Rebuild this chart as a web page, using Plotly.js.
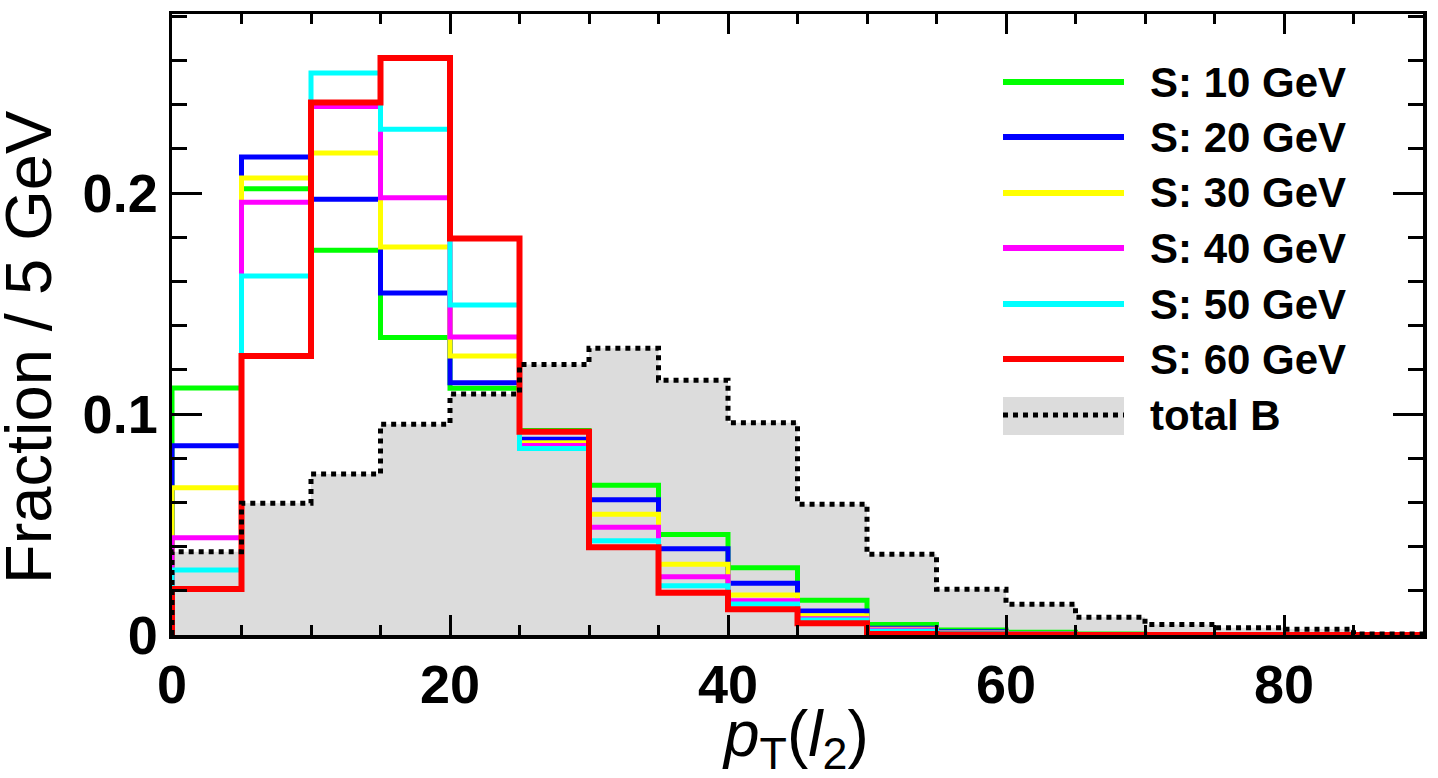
<!DOCTYPE html>
<html>
<head>
<meta charset="utf-8">
<script src="https://cdn.plot.ly/plotly-3.0.1.min.js"></script>
<style>html,body{margin:0;padding:0;background:#fff;}#chart{width:1438px;height:778px;}</style>
</head>
<body>
<div id="chart"></div>
<script>
// Bin edges of pT(l2) in GeV (5 GeV bins)
const binEdges = [0,5,10,15,20,25,30,35,40,45,50,55,60,65,70,75,80,85,90];

// Fractions per 5 GeV bin
const s10 = [0.1118,0.2019,0.1741,0.1346,0.1116,0.0925,0.0678,0.0455,0.0304,0.0157,0.0047,0.0023,0.0012,0.0004,0.0002,0.0001,0,0];
const s20 = [0.0856,0.2163,0.1972,0.1547,0.1141,0.0886,0.0612,0.0390,0.0234,0.0109,0.0030,0.0015,0.0006,0.0002,0.0001,0,0,0];
const s30 = [0.0666,0.2068,0.2181,0.1756,0.1262,0.0870,0.0546,0.0320,0.0181,0.0087,0.0026,0.0010,0.0004,0.0001,0,0,0,0];
const s40 = [0.0440,0.1958,0.2391,0.1978,0.1349,0.0857,0.0487,0.0264,0.0155,0.0074,0.0023,0.0009,0.0003,0.0001,0,0,0,0];
const s50 = [0.0294,0.1624,0.2543,0.2289,0.1493,0.0844,0.0427,0.0223,0.0140,0.0068,0.0017,0.0008,0.0003,0.0001,0,0,0,0];
const s60 = [0.0208,0.1263,0.2409,0.2611,0.1794,0.0920,0.0397,0.0191,0.0116,0.0053,0.0004,0.0002,0.0001,0,0,0,0,0];
const totalB = [0.0377,0.0596,0.0728,0.0954,0.1090,0.1224,0.1297,0.1153,0.0960,0.0592,0.0365,0.0207,0.0139,0.0080,0.0048,0.0033,0.0026,0.0004];

const seriesNames = ["S: 10 GeV","S: 20 GeV","S: 30 GeV","S: 40 GeV","S: 50 GeV","S: 60 GeV","total B"];
const seriesColors = ["#00ff00","#0000ff","#ffff00","#ff00ff","#00ffff","#ff0000","#000000"];
const seriesWidths = [5,5,5,5,5,6,5];
const signalSets = [s10,s20,s30,s40,s50,s60];

const xTickVals = [0,20,40,60,80];
const xTickText = ['0','20','40','60','80'];
const yTickVals = [0,0.1,0.2];
const yTickText = ['0','0.1','0.2'];

const xTitle = "<i>p</i><sub>T</sub>(<i>l</i><sub>2</sub>)";
const yTitle = "Fraction / 5 GeV";

const FONT = "'Liberation Sans', Arial, Helvetica, sans-serif";
const FILLGREY = "#dcdcdc";

function stepXY(vals){
  const x=[binEdges[0]], y=[0];
  for(let i=0;i<vals.length;i++){ x.push(binEdges[i]); y.push(vals[i]); }
  x.push(binEdges[vals.length]); y.push(vals[vals.length-1]);
  x.push(binEdges[vals.length]); y.push(0);
  return {x,y};
}

const traces = [];
const bStep = stepXY(totalB);
traces.push({x:bStep.x, y:bStep.y, type:'scatter', mode:'lines', line:{shape:'hv', width:0, color:FILLGREY},
  fill:'tozeroy', fillcolor:FILLGREY, showlegend:false, hoverinfo:'skip'});
signalSets.forEach((vals,i)=>{
  const st = stepXY(vals);
  traces.push({x:st.x, y:st.y, type:'scatter', mode:'lines', name:seriesNames[i],
    line:{shape:'hv', width:seriesWidths[i], color:seriesColors[i]}, showlegend:false});
});
traces.push({x:bStep.x, y:bStep.y, type:'scatter', mode:'lines', name:seriesNames[6],
  line:{shape:'hv', width:seriesWidths[6], color:'#000', dash:'dot'}, showlegend:false});

// plot area in pixels: left 172, right 1423, top 14, bottom 635
const L=172, R=1423, T=14, B=635;
const px = p => (p-L)/(R-L);
const py = p => (B-p)/(B-T);

const shapes = [], annotations = [];
const rowY = [82,137,193,248,304,359,415];
seriesNames.forEach((nm,i)=>{
  if(i===6){
    shapes.push({type:'rect', xref:'paper', yref:'paper', x0:px(1003), x1:px(1124), y0:py(435), y1:py(397),
      fillcolor:FILLGREY, line:{width:0}});
    shapes.push({type:'line', xref:'paper', yref:'paper', x0:px(1003), x1:px(1124), y0:py(rowY[i]), y1:py(rowY[i]),
      line:{color:'#000', width:5, dash:'dot'}});
  } else {
    shapes.push({type:'line', xref:'paper', yref:'paper', x0:px(1003), x1:px(1124), y0:py(rowY[i]), y1:py(rowY[i]),
      line:{color:seriesColors[i], width:6}});
  }
  annotations.push({xref:'paper', yref:'paper', x:px(1148), y:py(rowY[i]), xanchor:'left', yanchor:'middle',
    text:nm, showarrow:false, font:{family:FONT, size:42, color:'#000', weight:'bold'}});
});
annotations.push({xref:'paper', yref:'paper', x:px(29), y:py(347), xanchor:'center', yanchor:'middle',
  textangle:-90, text:yTitle, showarrow:false, font:{family:FONT, size:65, color:'#000'}});
annotations.push({xref:'paper', yref:'paper', x:px(795), y:py(738), xanchor:'center', yanchor:'middle',
  text:xTitle, showarrow:false, font:{family:FONT, size:64, color:'#000'}});

const layout = {
  width:1438, height:778,
  margin:{l:L, r:1438-R, t:T, b:778-B, pad:0},
  paper_bgcolor:'#fff', plot_bgcolor:'#fff',
  showlegend:false,
  xaxis:{range:[0,90], tickmode:'array', tickvals:xTickVals, ticktext:xTickText,
    ticks:'inside', ticklen:20, tickwidth:3, tickcolor:'#000',
    minor:{dtick:5, tick0:0, ticks:'inside', ticklen:10, tickwidth:3, tickcolor:'#000', showgrid:false},
    showline:true, linewidth:3.5, linecolor:'#000', mirror:'ticks', showgrid:false, zeroline:false,
    tickfont:{family:FONT, size:54, color:'#000', weight:'bold'}},
  yaxis:{range:[0,0.281], tickmode:'array', tickvals:yTickVals, ticktext:yTickText,
    ticks:'inside', ticklen:30, tickwidth:3, tickcolor:'#000',
    minor:{dtick:0.02, tick0:0, ticks:'inside', ticklen:15, tickwidth:3, tickcolor:'#000', showgrid:false},
    showline:true, linewidth:3.5, linecolor:'#000', mirror:'ticks', showgrid:false, zeroline:false,
    tickfont:{family:FONT, size:54, color:'#000', weight:'bold'}},
  shapes:shapes, annotations:annotations
};

Plotly.newPlot('chart', traces, layout, {displayModeBar:false, staticPlot:true});
</script>
</body>
</html>
